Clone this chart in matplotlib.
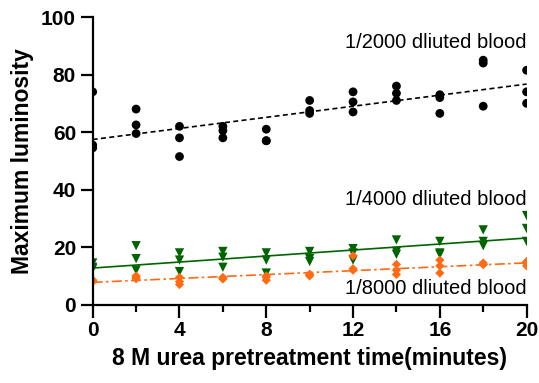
import numpy as np
import matplotlib
matplotlib.use("Agg")
import matplotlib.pyplot as plt
from matplotlib.ticker import MultipleLocator

plt.rcParams['font.family'] = ['Liberation Sans', 'DejaVu Sans']

# pretreatment time (minutes), triplicates
time_min = [0, 2, 4, 6, 8, 10, 12, 14, 16, 18, 20]

# 1/2000 diluted blood
lum_2000 = [
    [74, 55.5, 54.5],
    [68, 62.5, 59.5],
    [62, 58, 51.5],
    [62, 60.5, 58],
    [61, 57, 57],
    [71, 67.5, 66.5],
    [74, 70.5, 67],
    [76, 73.5, 71],
    [73, 72, 66.5],
    [85, 84, 69],
    [81.5, 74, 70],
]
# 1/4000 diluted blood
lum_4000 = [
    [14.5, 13, 12.5],
    [20.5, 16, 12],
    [18, 15.5, 11.5],
    [18.5, 16.5, 13],
    [18, 15.5, 11],
    [18.5, 16, 15],
    [19.5, 18, 15.5],
    [22.5, 18.5, 17.5],
    [22, 18, 17.5],
    [26, 22, 20.5],
    [31, 26.5, 22],
]
# 1/8000 diluted blood
lum_8000 = [
    [8.5, 8.5, 8],
    [10, 9.5, 9],
    [9.5, 8, 7],
    [9.5, 9, 9],
    [10, 9.5, 8.5],
    [10.5, 10.5, 10],
    [17, 12.5, 12],
    [14, 12, 10.5],
    [15.5, 13.5, 11],
    [14.5, 14, 14],
    [15, 14.5, 13.5],
]

labels = ["1/2000 dliuted blood", "1/4000 dliuted blood", "1/8000 dliuted blood"]
colors = ["black", "#006400", "#FF6A13"]
markers = ["o", "v", "D"]
msizes = [40, 45, 22]
linestyles = [(0, (3, 2)), "-", (0, (6, 2, 1.5, 2))]

fig = plt.figure(figsize=(5.39, 3.83), dpi=100)
ax = fig.add_axes([0.172, 0.2045, 0.805, 0.751])

xx = np.array([0, 20])
for data, c, m, s, ls in zip([lum_2000, lum_4000, lum_8000], colors, markers, msizes, linestyles):
    xs = np.repeat(time_min, 3)
    ys = np.array(data).ravel()
    ax.scatter(xs, ys, s=s, marker=m, color=c, edgecolors='none', zorder=3)
    k, b = np.polyfit(xs, ys, 1)
    ax.plot(xx, k * xx + b, color=c, linestyle=ls, linewidth=1.2, zorder=2)

ax.text(20, 91, labels[0], ha='right', va='center', fontsize=14.5)
ax.text(20, 36.5, labels[1], ha='right', va='center', fontsize=14.5)
ax.text(20, 5.5, labels[2], ha='right', va='center', fontsize=14.5)

ax.set_xlim(0, 20)
ax.set_ylim(0, 100)
ax.xaxis.set_major_locator(MultipleLocator(4))
ax.xaxis.set_minor_locator(MultipleLocator(2))
ax.yaxis.set_major_locator(MultipleLocator(20))

for sp in ['top', 'right']:
    ax.spines[sp].set_visible(False)
for sp in ['left', 'bottom']:
    ax.spines[sp].set_linewidth(1.6)
    ax.spines[sp].set_zorder(4)

ax.tick_params(axis='both', which='major', length=9, width=1.6, labelsize=15, pad=3)
ax.tick_params(axis='x', which='minor', length=5, width=1.6)
for lab in ax.get_xticklabels() + ax.get_yticklabels():
    lab.set_fontweight('bold')

ax.set_xlabel("8 M urea pretreatment time(minutes)", fontsize=16.5, fontweight='bold', labelpad=5)
ax.set_ylabel("Maximum luminosity", fontsize=16.5, fontweight='bold', labelpad=5)

fig.savefig("out.png", dpi=100)
